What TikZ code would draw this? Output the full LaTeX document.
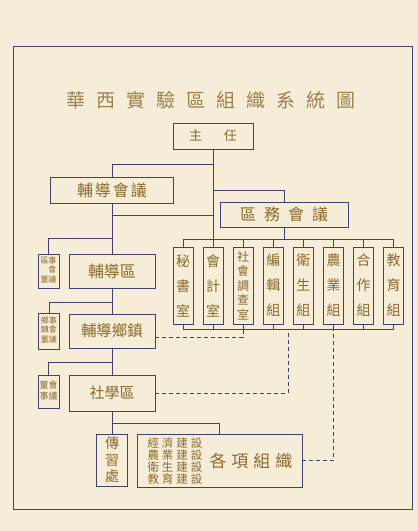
\documentclass[tikz,border=0pt]{standalone}
\usepackage{fontspec}
\newfontfamily\cjk{Noto Sans CJK TC}
\usetikzlibrary{positioning,calc}
\definecolor{paper}{RGB}{245,237,216}
\definecolor{ink}{RGB}{66,64,112}
\definecolor{pencil}{RGB}{140,106,44}

\begin{document}
\begin{tikzpicture}[x=1pt,y=-1pt,line width=0.9pt,color=ink,
    box/.style={draw=ink,inner sep=0pt,text=pencil,font=\cjk\fontsize{16}{18}\selectfont},
    col/.style={box,minimum width=20pt,minimum height=77pt,align=center,font=\cjk\fontsize{14}{25}\selectfont},
    side/.style={box,minimum width=21pt,minimum height=34pt,font=\cjk\fontsize{8}{9.5}\selectfont},
    dsh/.style={dash pattern=on 4pt off 3pt}]
  \fill[paper] (0,0) rectangle (418,531);
  \useasboundingbox (0,0) rectangle (418,531);
  \node[draw,minimum width=399pt,minimum height=463pt,inner sep=0pt] (frame) at (212.5,277.5) {};
  % title and top level
  \node[text=pencil!85,font=\cjk\fontsize{19}{20}\selectfont] (title) at (211,100)
    {華\hspace{11pt}西\hspace{11pt}實\hspace{11pt}驗\hspace{11pt}區\hspace{11pt}組\hspace{11pt}織\hspace{11pt}系\hspace{11pt}統\hspace{11pt}圖};
  \node[box,minimum width=80pt,minimum height=26pt,font=\cjk\fontsize{13}{15}\selectfont] (zhuren) at (213,136) {主\hspace{22pt}任};
  \node[box,minimum width=123pt,minimum height=26pt] (fdhy) at (112,190) {輔\hspace{2pt}導\hspace{2pt}會\hspace{2pt}議};
  \node[box,minimum width=128pt,minimum height=25pt] (quwu) at (284,214.5) {區\hspace{8pt}務\hspace{8pt}會\hspace{8pt}議};
  % row of offices under quwu
  \node[col] (b1) at (183,285.5) {秘\\書\\室};
  \node[col,right=9.2pt of b1] (b2) {會\\計\\室};
  \node[col,right=9.2pt of b2,font=\cjk\fontsize{12}{14.5}\selectfont] (b3) {社\\會\\調\\查\\室};
  \node[col,right=9.2pt of b3] (b4) {編\\輯\\組};
  \node[col,right=9.2pt of b4] (b5) {衛\\生\\組};
  \node[col,right=9.2pt of b5] (b6) {農\\業\\組};
  \node[col,right=9.2pt of b6] (b7) {合\\作\\組};
  \node[col,right=9.2pt of b7] (b8) {教\\育\\組};
  % left column
  \node[box,minimum width=86pt,minimum height=34pt] (fdq) at (112,271) {輔導區};
  \node[side] (s1) at (48.5,271) {\begin{tabular}{@{}c@{}c@{}}區&事\\&會\\董&議\end{tabular}};
  \node[box,minimum width=86pt,minimum height=34pt,font=\cjk\fontsize{15.5}{18}\selectfont] (fdxz) at (112,331) {輔導鄉鎮};
  \node[side,minimum height=36pt] (s2) at (49,331) {\begin{tabular}{@{}c@{}c@{}}鄉&事\\鎮&會\\董&議\end{tabular}};
  \node[box,minimum width=86pt,minimum height=36pt,font=\cjk\fontsize{15}{18}\selectfont] (sxq) at (112,393) {社學區};
  \node[side,minimum height=33pt,font=\cjk\fontsize{9}{10.5}\selectfont] (s3) at (48.5,391.5) {\begin{tabular}{@{}c@{}c@{}}董&會\\事&議\end{tabular}};
  \node[box,minimum width=31pt,minimum height=52pt,align=center,font=\cjk\fontsize{14}{16.5}\selectfont] (cxc) at (112,460) {傳\\習\\處};
  \node[box,minimum width=165pt,minimum height=53pt] (gxzz) at (219.5,460.5) {};
  \node[text=pencil,align=left,inner sep=0pt,font=\cjk\fontsize{11.5}{12.2}\selectfont] (gxlist) at (175,461)
    {經\hspace{3pt}濟\hspace{3pt}建\hspace{3pt}設\\農\hspace{3pt}業\hspace{3pt}建\hspace{3pt}設\\衛\hspace{3pt}生\hspace{3pt}建\hspace{3pt}設\\教\hspace{3pt}育\hspace{3pt}建\hspace{3pt}設};
  \node[text=pencil,inner sep=0pt,font=\cjk\fontsize{17}{18}\selectfont] (gxname) at (251,461) {各\hspace{5pt}項\hspace{5pt}組\hspace{5pt}織};
  % junctions
  \coordinate (topbus) at ([yshift=7pt]b1.north);
  \coordinate (botbus) at ([yshift=-5pt]b1.south);
  \coordinate (j1) at ([yshift=-41pt]zhuren.south);
  \coordinate (j2) at ([yshift=-12pt]fdhy.south);
  \coordinate (j3) at ([yshift=15pt]fdq.north);
  \coordinate (j4) at ([yshift=11pt]fdxz.north);
  \coordinate (j5) at ([yshift=12pt]sxq.north);
  \coordinate (j6) at ([yshift=-12pt]sxq.south);
  \coordinate (j7) at ($(b4.south)!0.5!(b5.south)$);
  % solid links
  \draw (zhuren.south) -- (zhuren.south |- b2.north);
  \draw (fdhy.north) -- ++(0,-12) -| (zhuren.south);
  \draw (j1) -| (quwu.north);
  \draw (quwu.south) -- (quwu.south |- topbus);
  \draw (topbus) -- (topbus -| b8.north);
  \draw (botbus) -- (botbus -| b8.south);
  \foreach \i in {1,...,8} {
    \draw (b\i.north) -- (b\i.north |- topbus);
    \draw (b\i.south) -- (b\i.south |- botbus);
  }
  \draw (fdhy.south) -- (fdq.north);
  \draw (j2) -- (j2 -| zhuren.south);
  \draw (s1.north) |- (j3);
  \draw (fdq.south) -- (fdxz.north);
  \draw (s2.north) |- (j4);
  \draw (fdxz.south) -- (sxq.north);
  \draw (s3.north) |- (j5);
  \draw (sxq.south) -- (cxc.north);
  \draw (j6) -| (gxzz.north);
  % dashed links
  \draw[dsh] ([yshift=-6pt]fdxz.east) -| (b3.south |- botbus);
  \draw[dsh] (sxq.east) -| (j7 |- botbus);
  \draw[dsh] (gxzz.east) -| (b6.south |- botbus);
\end{tikzpicture}
\end{document}
